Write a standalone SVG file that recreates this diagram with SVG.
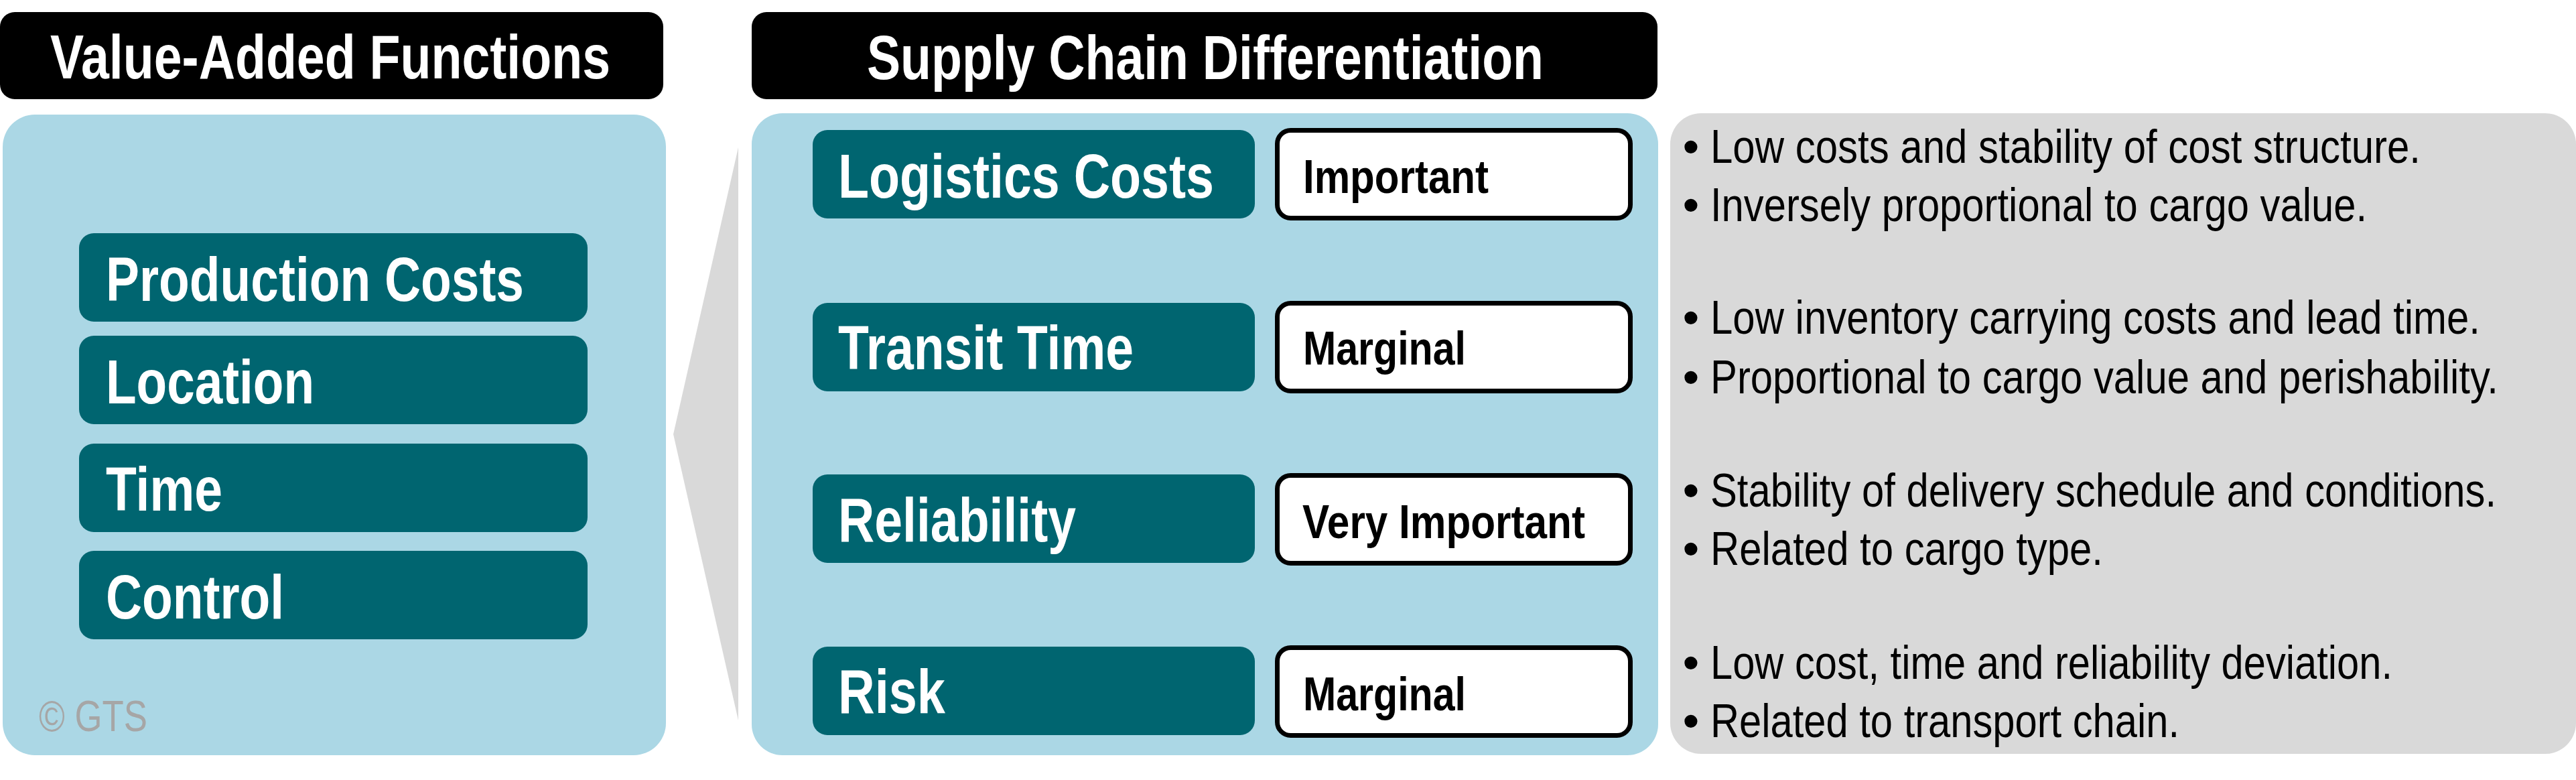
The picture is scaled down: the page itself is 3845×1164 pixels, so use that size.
<svg xmlns="http://www.w3.org/2000/svg" width="3845" height="1164" viewBox="0 0 3845 1164">
<style>
.hdr{fill:#000}
.hdrt{fill:#fff;font-family:"Liberation Sans Narrow","Liberation Sans",Arial,sans-serif;font-weight:bold;font-size:92px;text-anchor:middle}
.panel{fill:#ABD7E5}
.gpanel{fill:#D9D9D9}
.teal{fill:#006570}
.tt{fill:#fff;font-family:"Liberation Sans Narrow","Liberation Sans",Arial,sans-serif;font-weight:bold;font-size:92px}
.wb{fill:#fff;stroke:#000;stroke-width:7}
.wt{fill:#000;font-family:"Liberation Sans Narrow","Liberation Sans",Arial,sans-serif;font-weight:bold;font-size:70px}
.bt{fill:#000;font-family:"Liberation Sans Narrow","Liberation Sans",Arial,sans-serif;font-size:71px}
.bul{fill:#000;font-family:"Liberation Sans",Arial,sans-serif;font-size:71px;text-anchor:middle}
.cp{fill:#A6A6A6;font-family:"Liberation Sans Narrow","Liberation Sans",Arial,sans-serif;font-size:64px}
</style>
<rect width="3845" height="1164" fill="#fff"/>

<g id="callout">
<polygon points="1102,220 1005,648 1102,1075" fill="#D9D9D9"/>
</g>

<g id="header-value-added">
<rect class="hdr" x="0" y="18" width="990" height="130" rx="22"/>
<text class="hdrt" x="493" y="117" textLength="836" lengthAdjust="spacingAndGlyphs">Value-Added Functions</text>
</g>

<g id="header-supply-chain">
<rect class="hdr" x="1122" y="18" width="1352" height="130" rx="22"/>
<text class="hdrt" x="1799" y="118" textLength="1010" lengthAdjust="spacingAndGlyphs">Supply Chain Differentiation</text>
</g>

<g id="panel-value-added">
<rect class="panel" x="4" y="171" width="990" height="956" rx="48"/>
<text class="cp" x="58" y="1091" textLength="162" lengthAdjust="spacingAndGlyphs">© GTS</text>
</g>

<g id="node-production-costs">
<rect class="teal" x="118" y="348" width="759" height="132" rx="22"/>
<text class="tt" x="158" y="449" textLength="624" lengthAdjust="spacingAndGlyphs">Production Costs</text>
</g>
<g id="node-location">
<rect class="teal" x="118" y="501" width="759" height="132" rx="22"/>
<text class="tt" x="158" y="602" textLength="311" lengthAdjust="spacingAndGlyphs">Location</text>
</g>
<g id="node-time">
<rect class="teal" x="118" y="662" width="759" height="132" rx="22"/>
<text class="tt" x="158" y="762" textLength="174" lengthAdjust="spacingAndGlyphs">Time</text>
</g>
<g id="node-control">
<rect class="teal" x="118" y="822" width="759" height="132" rx="22"/>
<text class="tt" x="158" y="923" textLength="266" lengthAdjust="spacingAndGlyphs">Control</text>
</g>

<g id="panel-supply-chain">
<rect class="panel" x="1122" y="169" width="1353" height="958" rx="46"/>
</g>

<g id="node-logistics-costs">
<rect class="teal" x="1213" y="194" width="660" height="132" rx="22"/>
<text class="tt" x="1251" y="295" textLength="561" lengthAdjust="spacingAndGlyphs">Logistics Costs</text>
<rect class="wb" x="1906.5" y="194.5" width="527" height="131" rx="20"/>
<text class="wt" x="1945" y="288" textLength="277" lengthAdjust="spacingAndGlyphs">Important</text>
</g>
<g id="node-transit-time">
<rect class="teal" x="1213" y="452" width="660" height="132" rx="22"/>
<text class="tt" x="1251" y="551" textLength="441" lengthAdjust="spacingAndGlyphs">Transit Time</text>
<rect class="wb" x="1906.5" y="452.5" width="527" height="131" rx="20"/>
<text class="wt" x="1945" y="544" textLength="243" lengthAdjust="spacingAndGlyphs">Marginal</text>
</g>
<g id="node-reliability">
<rect class="teal" x="1213" y="708" width="660" height="132" rx="22"/>
<text class="tt" x="1251" y="808" textLength="355" lengthAdjust="spacingAndGlyphs">Reliability</text>
<rect class="wb" x="1906.5" y="709.5" width="527" height="131" rx="20"/>
<text class="wt" x="1944" y="803" textLength="422" lengthAdjust="spacingAndGlyphs">Very Important</text>
</g>
<g id="node-risk">
<rect class="teal" x="1213" y="965" width="660" height="132" rx="22"/>
<text class="tt" x="1251" y="1064" textLength="160" lengthAdjust="spacingAndGlyphs">Risk</text>
<rect class="wb" x="1906.5" y="966.5" width="527" height="131" rx="20"/>
<text class="wt" x="1945" y="1060" textLength="243" lengthAdjust="spacingAndGlyphs">Marginal</text>
</g>

<g id="panel-notes">
<rect class="gpanel" x="2493" y="169" width="1352" height="956" rx="46"/>
<text class="bul" x="2524" y="243">•</text>
<text class="bt" x="2553" y="243" textLength="1060" lengthAdjust="spacingAndGlyphs">Low costs and stability of cost structure.</text>
<text class="bul" x="2524" y="330">•</text>
<text class="bt" x="2553" y="330" textLength="980" lengthAdjust="spacingAndGlyphs">Inversely proportional to cargo value.</text>
<text class="bul" x="2524" y="498">•</text>
<text class="bt" x="2553" y="498" textLength="1149" lengthAdjust="spacingAndGlyphs">Low inventory carrying costs and lead time.</text>
<text class="bul" x="2524" y="587">•</text>
<text class="bt" x="2553" y="587" textLength="1176" lengthAdjust="spacingAndGlyphs">Proportional to cargo value and perishability.</text>
<text class="bul" x="2524" y="756">•</text>
<text class="bt" x="2553" y="756" textLength="1173" lengthAdjust="spacingAndGlyphs">Stability of delivery schedule and conditions.</text>
<text class="bul" x="2524" y="843">•</text>
<text class="bt" x="2553" y="843" textLength="586" lengthAdjust="spacingAndGlyphs">Related to cargo type.</text>
<text class="bul" x="2524" y="1013">•</text>
<text class="bt" x="2553" y="1013" textLength="1018" lengthAdjust="spacingAndGlyphs">Low cost, time and reliability deviation.</text>
<text class="bul" x="2524" y="1100">•</text>
<text class="bt" x="2553" y="1100" textLength="700" lengthAdjust="spacingAndGlyphs">Related to transport chain.</text>
</g>
</svg>
